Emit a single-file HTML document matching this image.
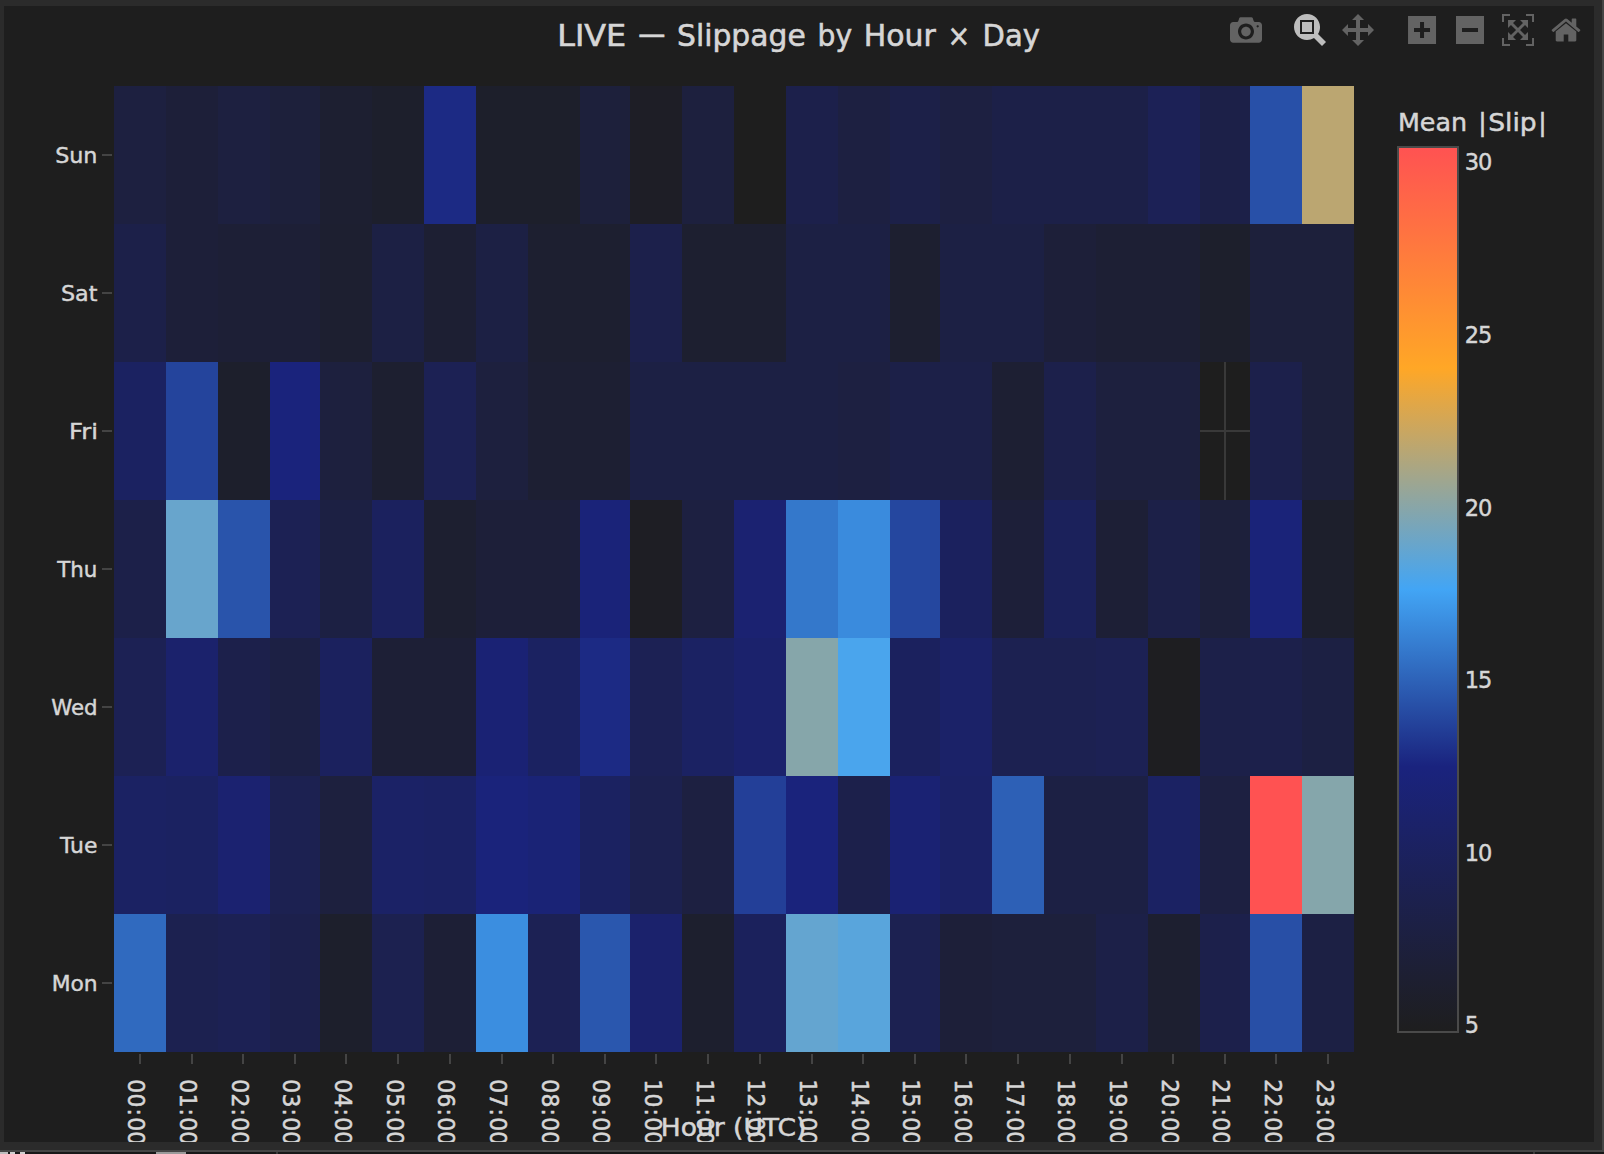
<!DOCTYPE html>
<html lang="en"><head><meta charset="utf-8"><title>LIVE — Slippage by Hour × Day</title>
<style>html,body{margin:0;padding:0;background:#2b2b2b;overflow:hidden}body{width:1604px;height:1154px;position:relative}svg{position:absolute;left:0;top:0;display:block}text{font-family:'DejaVu Sans','Liberation Sans',sans-serif;fill:#d6d6d6}</style></head><body>
<svg width="1604" height="1154" viewBox="0 0 1604 1154">
<defs><clipPath id="plotclip"><rect x="4" y="6" width="1590" height="1136"/></clipPath>
<linearGradient id="cb" x1="0" y1="0" x2="0" y2="1">
<stop offset="0" stop-color="#ff5252"/>
<stop offset="0.25" stop-color="#ffa726"/>
<stop offset="0.5" stop-color="#42a5f5"/>
<stop offset="0.7" stop-color="#1a237e"/>
<stop offset="1" stop-color="#1e1e1e"/>
</linearGradient></defs>
<rect x="0" y="0" width="1604" height="1154" fill="#2b2b2b"/>
<rect x="1602" y="0" width="2" height="1152" fill="#454545"/>
<rect x="0" y="1150" width="1604" height="2" fill="#454545"/>
<rect x="0" y="1152" width="1604" height="2" fill="#181818"/>
<rect x="0" y="1152" width="8" height="2" fill="#bdbdbd"/><rect x="10" y="1152" width="5" height="2" fill="#cfcfcf"/><rect x="20" y="1152" width="5" height="2" fill="#cfcfcf"/>
<rect x="156" y="1152" width="30" height="2" fill="#9a9a9a"/>
<rect x="276" y="1152" width="2" height="2" fill="#3a3a3a"/><rect x="1533" y="1152" width="2" height="2" fill="#3a3a3a"/>
<rect x="4" y="6" width="1590" height="1136" fill="#1e1e1e"/>
<g clip-path="url(#plotclip)">
<g shape-rendering="crispEdges">
<rect x="114" y="86" width="52" height="138" fill="#1d2040"/>
<rect x="166" y="86" width="52" height="138" fill="#1d1f39"/>
<rect x="218" y="86" width="52" height="138" fill="#1d2040"/>
<rect x="270" y="86" width="50" height="138" fill="#1d203b"/>
<rect x="320" y="86" width="52" height="138" fill="#1d1f31"/>
<rect x="372" y="86" width="52" height="138" fill="#1d1f2c"/>
<rect x="424" y="86" width="52" height="138" fill="#1c2a84"/>
<rect x="476" y="86" width="52" height="138" fill="#1d1f2b"/>
<rect x="528" y="86" width="52" height="138" fill="#1d1f2b"/>
<rect x="580" y="86" width="50" height="138" fill="#1d203b"/>
<rect x="630" y="86" width="52" height="138" fill="#1e1e26"/>
<rect x="682" y="86" width="52" height="138" fill="#1d203e"/>
<rect x="734" y="86" width="52" height="138" fill="#1e1e1e"/>
<rect x="786" y="86" width="52" height="138" fill="#1c204b"/>
<rect x="838" y="86" width="52" height="138" fill="#1d2041"/>
<rect x="890" y="86" width="50" height="138" fill="#1c2048"/>
<rect x="940" y="86" width="52" height="138" fill="#1d2041"/>
<rect x="992" y="86" width="52" height="138" fill="#1c2048"/>
<rect x="1044" y="86" width="52" height="138" fill="#1c2048"/>
<rect x="1096" y="86" width="52" height="138" fill="#1c2048"/>
<rect x="1148" y="86" width="52" height="138" fill="#1c2156"/>
<rect x="1200" y="86" width="50" height="138" fill="#1c2048"/>
<rect x="1250" y="86" width="52" height="138" fill="#2850a8"/>
<rect x="1302" y="86" width="52" height="138" fill="#bba671"/>
<rect x="114" y="224" width="52" height="138" fill="#1c2049"/>
<rect x="166" y="224" width="52" height="138" fill="#1d1f39"/>
<rect x="218" y="224" width="52" height="138" fill="#1d1f36"/>
<rect x="270" y="224" width="50" height="138" fill="#1d1f36"/>
<rect x="320" y="224" width="52" height="138" fill="#1d1f30"/>
<rect x="372" y="224" width="52" height="138" fill="#1c2044"/>
<rect x="424" y="224" width="52" height="138" fill="#1d1f33"/>
<rect x="476" y="224" width="52" height="138" fill="#1c2044"/>
<rect x="528" y="224" width="52" height="138" fill="#1d1f30"/>
<rect x="580" y="224" width="50" height="138" fill="#1d1f30"/>
<rect x="630" y="224" width="52" height="138" fill="#1c204b"/>
<rect x="682" y="224" width="52" height="138" fill="#1d1f30"/>
<rect x="734" y="224" width="52" height="138" fill="#1d1f30"/>
<rect x="786" y="224" width="52" height="138" fill="#1c2044"/>
<rect x="838" y="224" width="52" height="138" fill="#1c2044"/>
<rect x="890" y="224" width="50" height="138" fill="#1d1f30"/>
<rect x="940" y="224" width="52" height="138" fill="#1c2044"/>
<rect x="992" y="224" width="52" height="138" fill="#1c2044"/>
<rect x="1044" y="224" width="52" height="138" fill="#1d1f39"/>
<rect x="1096" y="224" width="52" height="138" fill="#1d1f34"/>
<rect x="1148" y="224" width="52" height="138" fill="#1d1f34"/>
<rect x="1200" y="224" width="50" height="138" fill="#1d1f2c"/>
<rect x="1250" y="224" width="52" height="138" fill="#1d203b"/>
<rect x="1302" y="224" width="52" height="138" fill="#1d203b"/>
<rect x="114" y="362" width="52" height="138" fill="#1b2261"/>
<rect x="166" y="362" width="52" height="138" fill="#24449c"/>
<rect x="218" y="362" width="52" height="138" fill="#1d1f2c"/>
<rect x="270" y="362" width="50" height="138" fill="#1a237c"/>
<rect x="320" y="362" width="52" height="138" fill="#1d203e"/>
<rect x="372" y="362" width="52" height="138" fill="#1d1f30"/>
<rect x="424" y="362" width="52" height="138" fill="#1c2154"/>
<rect x="476" y="362" width="52" height="138" fill="#1d203e"/>
<rect x="528" y="362" width="52" height="138" fill="#1d1f33"/>
<rect x="580" y="362" width="50" height="138" fill="#1d1f33"/>
<rect x="630" y="362" width="52" height="138" fill="#1c2044"/>
<rect x="682" y="362" width="52" height="138" fill="#1c2044"/>
<rect x="734" y="362" width="52" height="138" fill="#1c2044"/>
<rect x="786" y="362" width="52" height="138" fill="#1c2044"/>
<rect x="838" y="362" width="52" height="138" fill="#1d2041"/>
<rect x="890" y="362" width="50" height="138" fill="#1c2048"/>
<rect x="940" y="362" width="52" height="138" fill="#1c2048"/>
<rect x="992" y="362" width="52" height="138" fill="#1d1f33"/>
<rect x="1044" y="362" width="52" height="138" fill="#1c204b"/>
<rect x="1096" y="362" width="52" height="138" fill="#1d203e"/>
<rect x="1148" y="362" width="52" height="138" fill="#1d203e"/>
<rect x="1200" y="362" width="50" height="138" fill="#1e1e1e"/>
<rect x="1224" y="362" width="2" height="138" fill="#393939"/>
<rect x="1200" y="430" width="50" height="2" fill="#393939"/>
<rect x="1250" y="362" width="52" height="138" fill="#1c204b"/>
<rect x="1302" y="362" width="52" height="138" fill="#1d203b"/>
<rect x="114" y="500" width="52" height="138" fill="#1c2049"/>
<rect x="166" y="500" width="52" height="138" fill="#68a5cc"/>
<rect x="218" y="500" width="52" height="138" fill="#2954ab"/>
<rect x="270" y="500" width="50" height="138" fill="#1c2154"/>
<rect x="320" y="500" width="52" height="138" fill="#1c2043"/>
<rect x="372" y="500" width="52" height="138" fill="#1b215e"/>
<rect x="424" y="500" width="52" height="138" fill="#1d1f30"/>
<rect x="476" y="500" width="52" height="138" fill="#1d1f39"/>
<rect x="528" y="500" width="52" height="138" fill="#1d1f39"/>
<rect x="580" y="500" width="50" height="138" fill="#1a2379"/>
<rect x="630" y="500" width="52" height="138" fill="#1e1e24"/>
<rect x="682" y="500" width="52" height="138" fill="#1d2041"/>
<rect x="734" y="500" width="52" height="138" fill="#1b2271"/>
<rect x="786" y="500" width="52" height="138" fill="#3478cb"/>
<rect x="838" y="500" width="52" height="138" fill="#3a8bdd"/>
<rect x="890" y="500" width="50" height="138" fill="#25479f"/>
<rect x="940" y="500" width="52" height="138" fill="#1b215e"/>
<rect x="992" y="500" width="52" height="138" fill="#1d1f39"/>
<rect x="1044" y="500" width="52" height="138" fill="#1b215b"/>
<rect x="1096" y="500" width="52" height="138" fill="#1d1f36"/>
<rect x="1148" y="500" width="52" height="138" fill="#1c2048"/>
<rect x="1200" y="500" width="50" height="138" fill="#1d203b"/>
<rect x="1250" y="500" width="52" height="138" fill="#1a2379"/>
<rect x="1302" y="500" width="52" height="138" fill="#1d1f2c"/>
<rect x="114" y="638" width="52" height="138" fill="#1c2154"/>
<rect x="166" y="638" width="52" height="138" fill="#1b226c"/>
<rect x="218" y="638" width="52" height="138" fill="#1c204b"/>
<rect x="270" y="638" width="50" height="138" fill="#1c2044"/>
<rect x="320" y="638" width="52" height="138" fill="#1b215e"/>
<rect x="372" y="638" width="52" height="138" fill="#1d1f36"/>
<rect x="424" y="638" width="52" height="138" fill="#1d1f36"/>
<rect x="476" y="638" width="52" height="138" fill="#1a2274"/>
<rect x="528" y="638" width="52" height="138" fill="#1b2261"/>
<rect x="580" y="638" width="50" height="138" fill="#1c2a84"/>
<rect x="630" y="638" width="52" height="138" fill="#1c2154"/>
<rect x="682" y="638" width="52" height="138" fill="#1b2263"/>
<rect x="734" y="638" width="52" height="138" fill="#1b226c"/>
<rect x="786" y="638" width="52" height="138" fill="#86a6aa"/>
<rect x="838" y="638" width="52" height="138" fill="#4aa5ed"/>
<rect x="890" y="638" width="50" height="138" fill="#1b215e"/>
<rect x="940" y="638" width="52" height="138" fill="#1b2268"/>
<rect x="992" y="638" width="52" height="138" fill="#1c2151"/>
<rect x="1044" y="638" width="52" height="138" fill="#1c2151"/>
<rect x="1096" y="638" width="52" height="138" fill="#1c2154"/>
<rect x="1148" y="638" width="52" height="138" fill="#1e1e21"/>
<rect x="1200" y="638" width="50" height="138" fill="#1c2049"/>
<rect x="1250" y="638" width="52" height="138" fill="#1c204b"/>
<rect x="1302" y="638" width="52" height="138" fill="#1c2043"/>
<rect x="114" y="776" width="52" height="138" fill="#1b2263"/>
<rect x="166" y="776" width="52" height="138" fill="#1b2261"/>
<rect x="218" y="776" width="52" height="138" fill="#1b2270"/>
<rect x="270" y="776" width="50" height="138" fill="#1c2151"/>
<rect x="320" y="776" width="52" height="138" fill="#1d203e"/>
<rect x="372" y="776" width="52" height="138" fill="#1b2266"/>
<rect x="424" y="776" width="52" height="138" fill="#1b2264"/>
<rect x="476" y="776" width="52" height="138" fill="#1a237b"/>
<rect x="528" y="776" width="52" height="138" fill="#1a2376"/>
<rect x="580" y="776" width="50" height="138" fill="#1b2261"/>
<rect x="630" y="776" width="52" height="138" fill="#1c2150"/>
<rect x="682" y="776" width="52" height="138" fill="#1d2041"/>
<rect x="734" y="776" width="52" height="138" fill="#233f98"/>
<rect x="786" y="776" width="52" height="138" fill="#1a237c"/>
<rect x="838" y="776" width="52" height="138" fill="#1c204b"/>
<rect x="890" y="776" width="50" height="138" fill="#1a2273"/>
<rect x="940" y="776" width="52" height="138" fill="#1b2266"/>
<rect x="992" y="776" width="52" height="138" fill="#2d60b6"/>
<rect x="1044" y="776" width="52" height="138" fill="#1c2044"/>
<rect x="1096" y="776" width="52" height="138" fill="#1c2044"/>
<rect x="1148" y="776" width="52" height="138" fill="#1b2263"/>
<rect x="1200" y="776" width="50" height="138" fill="#1d2041"/>
<rect x="1250" y="776" width="52" height="138" fill="#ff5252"/>
<rect x="1302" y="776" width="52" height="138" fill="#85a6ab"/>
<rect x="114" y="914" width="52" height="138" fill="#306abf"/>
<rect x="166" y="914" width="52" height="138" fill="#1c2150"/>
<rect x="218" y="914" width="52" height="138" fill="#1c2154"/>
<rect x="270" y="914" width="50" height="138" fill="#1c204c"/>
<rect x="320" y="914" width="52" height="138" fill="#1d1f2c"/>
<rect x="372" y="914" width="52" height="138" fill="#1c2150"/>
<rect x="424" y="914" width="52" height="138" fill="#1d1f36"/>
<rect x="476" y="914" width="52" height="138" fill="#3b8ee0"/>
<rect x="528" y="914" width="52" height="138" fill="#1c2154"/>
<rect x="580" y="914" width="50" height="138" fill="#2a57ae"/>
<rect x="630" y="914" width="52" height="138" fill="#1b226c"/>
<rect x="682" y="914" width="52" height="138" fill="#1d1f2e"/>
<rect x="734" y="914" width="52" height="138" fill="#1b215c"/>
<rect x="786" y="914" width="52" height="138" fill="#64a5d0"/>
<rect x="838" y="914" width="52" height="138" fill="#59a5dc"/>
<rect x="890" y="914" width="50" height="138" fill="#1c2151"/>
<rect x="940" y="914" width="52" height="138" fill="#1d1f39"/>
<rect x="992" y="914" width="52" height="138" fill="#1d203c"/>
<rect x="1044" y="914" width="52" height="138" fill="#1d203c"/>
<rect x="1096" y="914" width="52" height="138" fill="#1c2048"/>
<rect x="1148" y="914" width="52" height="138" fill="#1d1f30"/>
<rect x="1200" y="914" width="50" height="138" fill="#1c204b"/>
<rect x="1250" y="914" width="52" height="138" fill="#284fa6"/>
<rect x="1302" y="914" width="52" height="138" fill="#1c2044"/>
</g>
<g fill="#444444" shape-rendering="crispEdges">
<rect x="102" y="154" width="10" height="2"/>
<rect x="102" y="292" width="10" height="2"/>
<rect x="102" y="430" width="10" height="2"/>
<rect x="102" y="568" width="10" height="2"/>
<rect x="102" y="706" width="10" height="2"/>
<rect x="102" y="844" width="10" height="2"/>
<rect x="102" y="982" width="10" height="2"/>
<rect x="139" y="1054" width="2" height="10"/>
<rect x="191" y="1054" width="2" height="10"/>
<rect x="242" y="1054" width="2" height="10"/>
<rect x="294" y="1054" width="2" height="10"/>
<rect x="345" y="1054" width="2" height="10"/>
<rect x="397" y="1054" width="2" height="10"/>
<rect x="449" y="1054" width="2" height="10"/>
<rect x="501" y="1054" width="2" height="10"/>
<rect x="552" y="1054" width="2" height="10"/>
<rect x="604" y="1054" width="2" height="10"/>
<rect x="655" y="1054" width="2" height="10"/>
<rect x="707" y="1054" width="2" height="10"/>
<rect x="759" y="1054" width="2" height="10"/>
<rect x="811" y="1054" width="2" height="10"/>
<rect x="862" y="1054" width="2" height="10"/>
<rect x="914" y="1054" width="2" height="10"/>
<rect x="965" y="1054" width="2" height="10"/>
<rect x="1017" y="1054" width="2" height="10"/>
<rect x="1069" y="1054" width="2" height="10"/>
<rect x="1121" y="1054" width="2" height="10"/>
<rect x="1172" y="1054" width="2" height="10"/>
<rect x="1224" y="1054" width="2" height="10"/>
<rect x="1275" y="1054" width="2" height="10"/>
<rect x="1327" y="1054" width="2" height="10"/>
</g>
<g stroke="#d6d6d6" stroke-width="0.45">
<text x="55.17" y="162.7" font-size="22" textLength="42.32" lengthAdjust="spacingAndGlyphs">Sun</text>
<text x="60.96" y="300.7" font-size="22" textLength="36.5" lengthAdjust="spacingAndGlyphs">Sat</text>
<text x="68.92" y="438.7" font-size="22" textLength="28.99" lengthAdjust="spacingAndGlyphs">Fri</text>
<text x="57.14" y="576.7" font-size="22" textLength="40.18" lengthAdjust="spacingAndGlyphs">Thu</text>
<text x="51.18" y="714.7" font-size="22" textLength="46.47" lengthAdjust="spacingAndGlyphs">Wed</text>
<text x="60.05" y="852.7" font-size="22" textLength="37.34" lengthAdjust="spacingAndGlyphs">Tue</text>
<text x="51.65" y="990.7" font-size="22" textLength="46.02" lengthAdjust="spacingAndGlyphs">Mon</text>
</g>
<g font-size="23" stroke="#d6d6d6" stroke-width="0.55">
<text transform="translate(128.333,1079.35) rotate(90) scale(0.95,1)" letter-spacing="0.16">00<tspan dx="1.02">:</tspan><tspan dx="1.46">00</tspan></text>
<text transform="translate(180,1079.35) rotate(90) scale(0.95,1)" letter-spacing="0.16">01<tspan dx="1.02">:</tspan><tspan dx="1.46">00</tspan></text>
<text transform="translate(231.667,1079.35) rotate(90) scale(0.95,1)" letter-spacing="0.16">02<tspan dx="1.02">:</tspan><tspan dx="1.46">00</tspan></text>
<text transform="translate(283.333,1079.35) rotate(90) scale(0.95,1)" letter-spacing="0.16">03<tspan dx="1.02">:</tspan><tspan dx="1.46">00</tspan></text>
<text transform="translate(335,1079.35) rotate(90) scale(0.95,1)" letter-spacing="0.16">04<tspan dx="1.02">:</tspan><tspan dx="1.46">00</tspan></text>
<text transform="translate(386.667,1079.35) rotate(90) scale(0.95,1)" letter-spacing="0.16">05<tspan dx="1.02">:</tspan><tspan dx="1.46">00</tspan></text>
<text transform="translate(438.333,1079.35) rotate(90) scale(0.95,1)" letter-spacing="0.16">06<tspan dx="1.02">:</tspan><tspan dx="1.46">00</tspan></text>
<text transform="translate(490,1079.35) rotate(90) scale(0.95,1)" letter-spacing="0.16">07<tspan dx="1.02">:</tspan><tspan dx="1.46">00</tspan></text>
<text transform="translate(541.667,1079.35) rotate(90) scale(0.95,1)" letter-spacing="0.16">08<tspan dx="1.02">:</tspan><tspan dx="1.46">00</tspan></text>
<text transform="translate(593.333,1079.35) rotate(90) scale(0.95,1)" letter-spacing="0.16">09<tspan dx="1.02">:</tspan><tspan dx="1.46">00</tspan></text>
<text transform="translate(645,1079.35) rotate(90) scale(0.95,1)" letter-spacing="0.16">10<tspan dx="1.02">:</tspan><tspan dx="1.46">00</tspan></text>
<text transform="translate(696.667,1079.35) rotate(90) scale(0.95,1)" letter-spacing="0.16">11<tspan dx="1.02">:</tspan><tspan dx="1.46">00</tspan></text>
<text transform="translate(748.333,1079.35) rotate(90) scale(0.95,1)" letter-spacing="0.16">12<tspan dx="1.02">:</tspan><tspan dx="1.46">00</tspan></text>
<text transform="translate(800,1079.35) rotate(90) scale(0.95,1)" letter-spacing="0.16">13<tspan dx="1.02">:</tspan><tspan dx="1.46">00</tspan></text>
<text transform="translate(851.667,1079.35) rotate(90) scale(0.95,1)" letter-spacing="0.16">14<tspan dx="1.02">:</tspan><tspan dx="1.46">00</tspan></text>
<text transform="translate(903.333,1079.35) rotate(90) scale(0.95,1)" letter-spacing="0.16">15<tspan dx="1.02">:</tspan><tspan dx="1.46">00</tspan></text>
<text transform="translate(955,1079.35) rotate(90) scale(0.95,1)" letter-spacing="0.16">16<tspan dx="1.02">:</tspan><tspan dx="1.46">00</tspan></text>
<text transform="translate(1006.67,1079.35) rotate(90) scale(0.95,1)" letter-spacing="0.16">17<tspan dx="1.02">:</tspan><tspan dx="1.46">00</tspan></text>
<text transform="translate(1058.33,1079.35) rotate(90) scale(0.95,1)" letter-spacing="0.16">18<tspan dx="1.02">:</tspan><tspan dx="1.46">00</tspan></text>
<text transform="translate(1110,1079.35) rotate(90) scale(0.95,1)" letter-spacing="0.16">19<tspan dx="1.02">:</tspan><tspan dx="1.46">00</tspan></text>
<text transform="translate(1161.67,1079.35) rotate(90) scale(0.95,1)" letter-spacing="0.16">20<tspan dx="1.02">:</tspan><tspan dx="1.46">00</tspan></text>
<text transform="translate(1213.33,1079.35) rotate(90) scale(0.95,1)" letter-spacing="0.16">21<tspan dx="1.02">:</tspan><tspan dx="1.46">00</tspan></text>
<text transform="translate(1265,1079.35) rotate(90) scale(0.95,1)" letter-spacing="0.16">22<tspan dx="1.02">:</tspan><tspan dx="1.46">00</tspan></text>
<text transform="translate(1316.67,1079.35) rotate(90) scale(0.95,1)" letter-spacing="0.16">23<tspan dx="1.02">:</tspan><tspan dx="1.46">00</tspan></text>
</g>
<g stroke="#d6d6d6" stroke-width="0.5">
<text x="660.77" y="1136.3" font-size="24" textLength="145.55" lengthAdjust="spacingAndGlyphs">Hour (UTC)</text>
</g>
<g stroke="#d6d6d6" stroke-width="0.6">
<text x="557.16" y="46.1" font-size="30" textLength="69.07" lengthAdjust="spacingAndGlyphs">LIVE</text>
<text x="638.18" y="44.2" font-size="30" textLength="27.14" lengthAdjust="spacingAndGlyphs">—</text>
<text x="677.06" y="46.1" font-size="30" textLength="128.67" lengthAdjust="spacingAndGlyphs">Slippage</text>
<text x="817.62" y="46.1" font-size="30" textLength="34.57" lengthAdjust="spacingAndGlyphs">by</text>
<text x="863.72" y="46.1" font-size="30" textLength="72.01" lengthAdjust="spacingAndGlyphs">Hour</text>
<text x="947.47" y="46.1" font-size="30" textLength="22.71" lengthAdjust="spacingAndGlyphs">×</text>
<text x="982.6" y="46.1" font-size="30" textLength="57.37" lengthAdjust="spacingAndGlyphs">Day</text>
</g>
<rect x="1398" y="147" width="60" height="885" fill="url(#cb)"/>
<rect x="1398" y="147" width="60" height="885" fill="none" stroke="#4a4a4a" stroke-width="2" shape-rendering="crispEdges"/>
<g stroke="#d6d6d6" stroke-width="0.5">
<text x="1397.98" y="131.05" font-size="25" textLength="69.13" lengthAdjust="spacingAndGlyphs">Mean</text>
<text x="1478.13" y="131.05" font-size="25">|</text>
<text x="1488.17" y="131.05" font-size="25" textLength="48.5" lengthAdjust="spacingAndGlyphs">Slip</text>
<text x="1538.23" y="131.05" font-size="25">|</text>
</g>
<g font-size="22.5" stroke="#d6d6d6" stroke-width="0.45" letter-spacing="-1">
<text x="1464.7" y="170.2">30</text>
<text x="1464.7" y="342.85">25</text>
<text x="1464.7" y="515.5">20</text>
<text x="1464.7" y="688.15">15</text>
<text x="1464.7" y="860.8">10</text>
<text x="1464.7" y="1033.45">5</text>
</g>
<g transform="translate(1230,14) scale(0.032) matrix(1 0 0 -1 0 850)"><path d="m500 450c-83 0-150-67-150-150 0-83 67-150 150-150 83 0 150 67 150 150 0 83-67 150-150 150z m400 150h-120c-16 0-34 13-39 29l-31 93c-6 15-23 28-40 28h-340c-16 0-34-13-39-28l-31-94c-6-15-23-28-40-28h-120c-55 0-100-45-100-100v-450c0-55 45-100 100-100h800c55 0 100 45 100 100v450c0 55-45 100-100 100z m-400-550c-138 0-250 112-250 250 0 138 112 250 250 250 138 0 250-112 250-250 0-138-112-250-250-250z m365 380c-19 0-35 16-35 35 0 19 16 35 35 35 19 0 35-16 35-35 0-19-16-35-35-35z" fill="#636363"/></g>
<g transform="translate(1294,14) scale(0.032) matrix(1 0 0 -1 0 850)"><path d="m1000-25l-250 251c40 63 63 138 63 218 0 224-182 406-407 406-224 0-406-182-406-406s183-406 407-406c80 0 155 22 218 62l250-250 125 125z m-812 250l0 438 437 0 0-438-437 0z m62 375l313 0 0-312-313 0 0 312z" fill="#bdbdbd"/></g>
<g transform="translate(1342,14) scale(0.032) matrix(1 0 0 -1 0 850)"><path d="m1000 350l-187 188 0-125-250 0 0 250 125 0-188 187-187-187 125 0 0-250-250 0 0 125-188-188 186-187 0 125 252 0 0-250-125 0 187-188 188 188-125 0 0 250 250 0 0-126 187 188z" fill="#636363"/></g>
<g transform="translate(1408,14) scale(0.032) matrix(1 0 0 -1 0 850)"><path d="m1 787l0-875 875 0 0 875-875 0z m687-500l-187 0 0-187-125 0 0 187-188 0 0 125 188 0 0 187 125 0 0-187 187 0 0-125z" fill="#636363"/></g>
<g transform="translate(1456,14) scale(0.032) matrix(1 0 0 -1 0 850)"><path d="m0 788l0-876 875 0 0 876-875 0z m688-500l-500 0 0 125 500 0 0-125z" fill="#636363"/></g>
<g transform="translate(1502,14) scale(0.032) matrix(1 0 0 -1 0 850)"><path d="m250 850l-187 0-63 0 0-62 0-188 63 0 0 188 187 0 0 62z m688 0l-188 0 0-62 188 0 0-188 62 0 0 188 0 62-62 0z m-875-938l0 188-63 0 0-188 0-62 63 0 187 0 0 62-187 0z m875 188l0-188-188 0 0-62 188 0 62 0 0 62 0 188-62 0z M813 288L812 288 719 194 563 350 719 506 811 413 813 413 813 663 563 663 563 661 656 569 500 413 344 569 438 661 438 663 188 663 188 413 281 506 438 350 281 194 188 288 188 38 438 38 344 131 500 288 656 131 563 38 813 38z" fill="#636363"/></g>
<g transform="translate(1551.14,14) scale(0.032) matrix(1 0 0 -1 0 850)"><path d="m786 296v-267q0-15-11-26t-25-10h-214v214h-143v-214h-214q-15 0-25 10t-11 26v267q0 1 0 2t0 2l321 264 321-264q1-1 1-4z m124 39l-34-41q-5-5-12-6h-2q-7 0-12 3l-386 322-386-322q-7-4-13-4-7 2-12 7l-35 41q-4 5-3 13t6 12l401 334q18 15 42 15t43-15l136-114v109q0 8 5 13t13 5h107q8 0 13-5t5-13v-227l122-102q5-5 6-12t-4-13z" fill="#636363"/></g>
</g>
</svg></body></html>
